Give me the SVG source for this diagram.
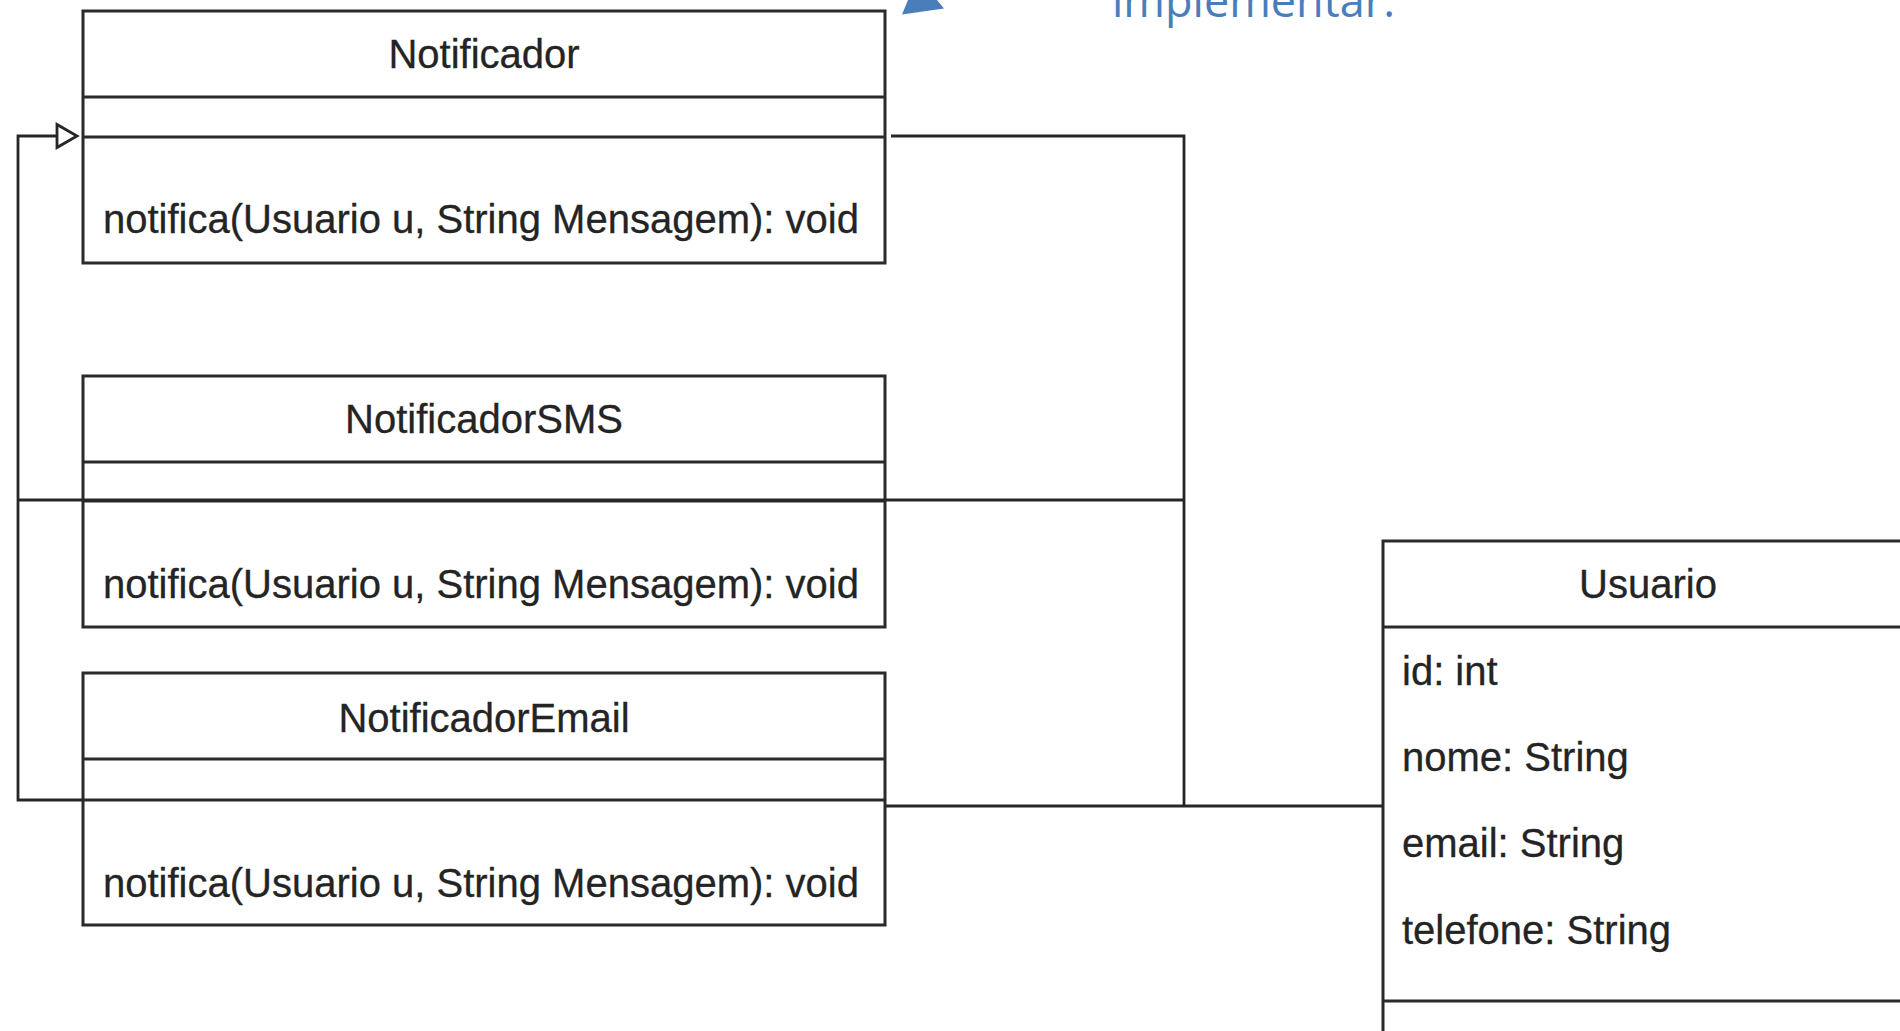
<svg xmlns="http://www.w3.org/2000/svg" width="1900" height="1031" viewBox="0 0 1900 1031">
  <style>
    .box { fill: #ffffff; stroke: #2a2a2a; stroke-width: 3; }
    .sep { stroke: #2a2a2a; stroke-width: 3; fill: none; }
    .wire { stroke: #262626; stroke-width: 2.8; fill: none; }
    .title { font-family: "Liberation Sans", Arial, sans-serif; font-size: 40px; fill: #242424; text-anchor: middle; stroke: #242424; stroke-width: 0.3; }
    .member { font-family: "Liberation Sans", Arial, sans-serif; font-size: 40px; fill: #242424; stroke: #242424; stroke-width: 0.3; }
    .note { font-family: "Open Sans", "Liberation Sans", sans-serif; font-size: 45px; fill: #4a7ebb; }
  </style>
  <rect width="1900" height="1031" fill="#ffffff"/>

  <!-- annotation fragment at the top edge -->
  <g id="annotation">
    <polygon points="902,14.5 944,8.5 937,0 908,0" fill="#4a7ebb"/>
    <text class="note" x="1112" y="17">implementar.</text>
  </g>

  <!-- class: Notificador -->
  <g id="notificador">
    <rect class="box" x="83" y="11" width="802" height="252"/>
    <line class="sep" x1="83" y1="97" x2="885" y2="97"/>
    <line class="sep" x1="83" y1="137" x2="885" y2="137"/>
    <text class="title" x="484" y="68">Notificador</text>
    <text class="member" x="103" y="233">notifica(Usuario u, String Mensagem): void</text>
  </g>

  <!-- class: NotificadorSMS -->
  <g id="notificador-sms">
    <rect class="box" x="83" y="376" width="802" height="251"/>
    <line class="sep" x1="83" y1="462" x2="885" y2="462"/>
    <line class="sep" x1="83" y1="501" x2="885" y2="501"/>
    <text class="title" x="484" y="433">NotificadorSMS</text>
    <text class="member" x="103" y="598">notifica(Usuario u, String Mensagem): void</text>
  </g>

  <!-- class: NotificadorEmail -->
  <g id="notificador-email">
    <rect class="box" x="83" y="673" width="802" height="252"/>
    <line class="sep" x1="83" y1="759" x2="885" y2="759"/>
    <line class="sep" x1="83" y1="800" x2="885" y2="800"/>
    <text class="title" x="484" y="732">NotificadorEmail</text>
    <text class="member" x="103" y="897">notifica(Usuario u, String Mensagem): void</text>
  </g>

  <!-- class: Usuario -->
  <g id="usuario">
    <rect class="box" x="1383" y="541" width="560" height="560"/>
    <line class="sep" x1="1383" y1="627" x2="1943" y2="627"/>
    <line class="sep" x1="1383" y1="1001" x2="1943" y2="1001"/>
    <text class="title" x="1648" y="598">Usuario</text>
    <text class="member" x="1402" y="685">id: int</text>
    <text class="member" x="1402" y="771">nome: String</text>
    <text class="member" x="1402" y="857">email: String</text>
    <text class="member" x="1402" y="944">telefone: String</text>
  </g>

  <!-- connectors -->
  <g id="connectors">
    <!-- generalization towards Notificador -->
    <path class="wire" d="M 83 800 H 18 V 136 H 57"/>
    <path class="wire" d="M 18 500 H 1184"/>
    <polygon points="57,124.5 77,136 57,147.5" fill="#ffffff" stroke="#262626" stroke-width="2.8" stroke-linejoin="miter"/>
    <!-- association towards Usuario -->
    <path class="wire" d="M 891 136 H 1184 V 806"/>
    <path class="wire" d="M 885 806 H 1383"/>
  </g>
</svg>
